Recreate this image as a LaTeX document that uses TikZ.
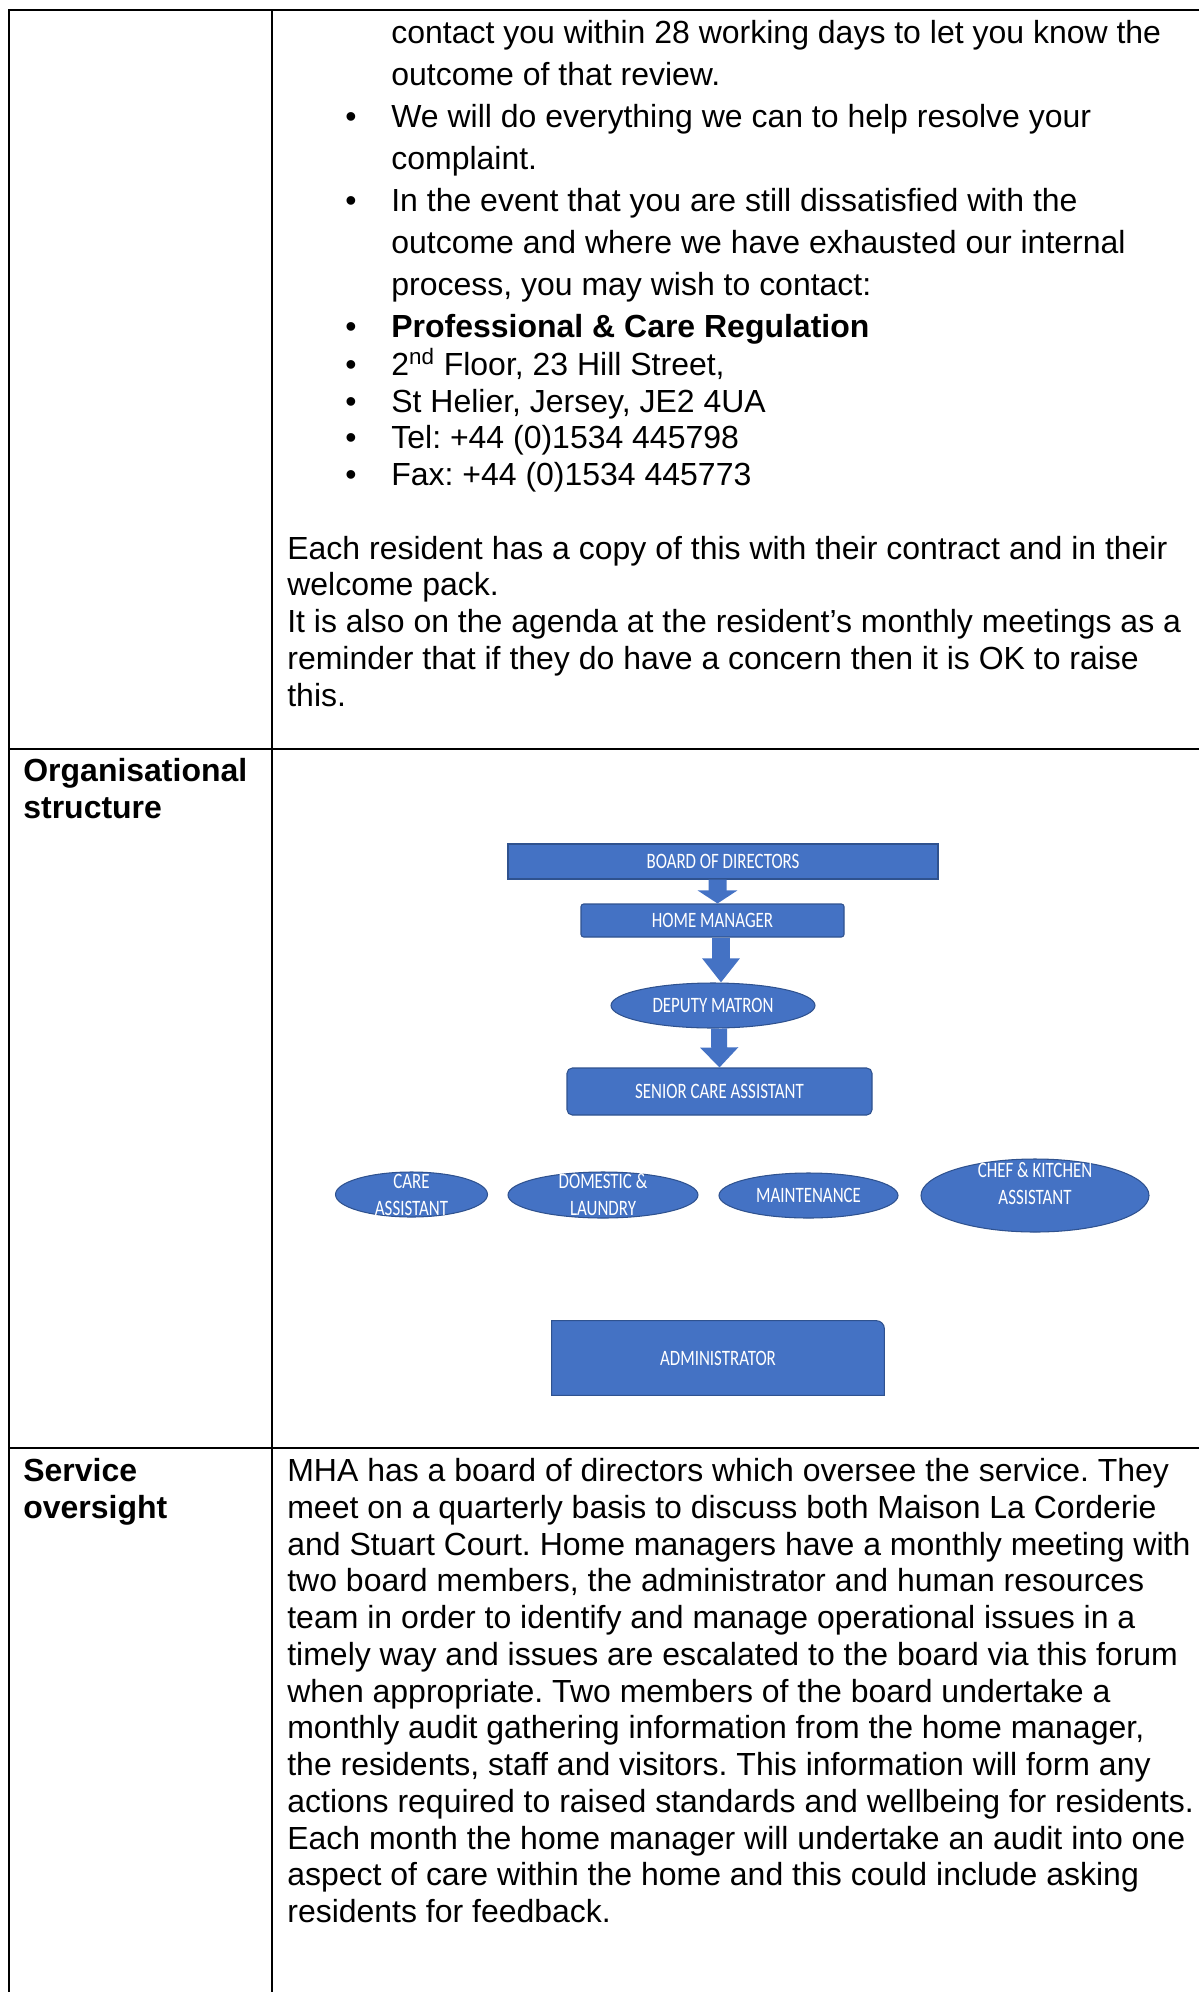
\documentclass[tikz,border=0pt]{standalone}
\usepackage{fontspec}
\setmainfont{Liberation Sans}
\newfontfamily\chartfont{Carlito}[FakeStretch=0.77]
\usetikzlibrary{shapes.geometric,arrows.meta,backgrounds}
\frenchspacing

\definecolor{chartblue}{HTML}{4472C4}
\definecolor{chartedge}{HTML}{2F528F}

\newcommand{\bul}{\makebox[0.92cm][l]{\textbullet}}
\newcommand{\skp}{\hspace*{0.92cm}}

\begin{document}
\begin{tikzpicture}
\tikzset{txt/.style={anchor=base west, align=left, inner sep=0pt, font=\fontsize{18.2}{20.9}\selectfont},
lbl/.style={txt, font=\fontsize{18.2}{20.9}\selectfont\bfseries},
chartlbl/.style={text=white, align=center, inner sep=0pt, font=\chartfont\fontsize{12.5}{15.4}\selectfont},
el/.style={chartlbl, draw=chartedge, line width=.6pt, fill=chartblue},
box/.style={el, rectangle},
oval/.style={el, ellipse}}

\useasboundingbox (0,0) rectangle (23.98,-39.84);

% Table rules
\draw[line width=.05cm] (23.98,-.2) -| (.18,-39.84);
\draw[line width=.05cm] (5.44,-.2) -- (5.44,-39.84);
\draw[line width=.05cm] (.18,-14.98) -- (23.98,-14.98);
\draw[line width=.05cm] (.18,-28.96) -- (23.98,-28.96);

% Complaints (continued), anchored on the last line
\node[txt, font=\fontsize{18.2}{23.9}\selectfont] (list) at (6.9,-6.74) {%
\skp contact you within 28 working days to let you know the\\
\skp outcome of that review.\\
\bul We will do everything we can to help resolve your\\
\skp complaint.\\
\bul In the event that you are still dissatisfied with the\\
\skp outcome and where we have exhausted our internal\\
\skp process, you may wish to contact:\\
\bul \textbf{Professional \& Care Regulation}};
\node[txt] (address) at (6.9,-9.71) {%
\bul 2\textsuperscript{nd} Floor, 23 Hill Street,\\
\bul St Helier, Jersey, JE2 4UA\\
\bul Tel: +44 (0)1534 445798\\
\bul Fax: +44 (0)1534 445773};
\node[txt] (copy) at (5.74,-14.12) {%
Each resident has a copy of this with their contract and in their\\
welcome pack.\\
It is also on the agenda at the resident’s monthly meetings as a\\
reminder that if they do have a concern then it is OK to raise\\
this.};

% Organisational structure
\node[lbl] (orglbl) at (.46,-16.37) {Organisational\\structure};

\node[box, minimum width=8.6cm, minimum height=.7cm] (board) at (14.46,-17.23) {BOARD OF DIRECTORS};
\node[box, rounded corners=1.5pt, minimum width=5.26cm, minimum height=.66cm] (hm) at (14.25,-18.41) {HOME MANAGER};
\node[oval, minimum width=4.08cm, minimum height=.9cm] (dm) at (14.26,-20.11) {DEPUTY MATRON};
\node[box, rounded corners=3pt, minimum width=6.1cm, minimum height=.94cm] (sca) at (14.39,-21.83) {SENIOR CARE ASSISTANT};

\node[oval, minimum width=3.04cm, minimum height=.9cm, label={[chartlbl]center:CARE\\ASSISTANT}] (care) at (8.23,-23.89) {};
\node[oval, minimum width=3.8cm, minimum height=.92cm, label={[chartlbl]center:DOMESTIC \&\\LAUNDRY}] (dom) at (12.06,-23.9) {};
\node[oval, minimum width=3.58cm, minimum height=.9cm] (maint) at (16.17,-23.91) {MAINTENANCE};
\node[oval, minimum width=4.56cm, minimum height=1.46cm, label={[chartlbl, yshift=.24cm]center:CHEF \& KITCHEN\\ASSISTANT}] (chef) at (20.7,-23.91) {};

\node[chartlbl, minimum width=6.64cm, minimum height=1.48cm] (admin) at (14.36,-27.16) {ADMINISTRATOR};
\begin{scope}[on background layer]
\filldraw[draw=chartedge, line width=.6pt, fill=chartblue] (admin.south west) -- (admin.north west)
  -- ([xshift=-.16cm]admin.north east) arc[start angle=90, end angle=0, radius=.16cm] -- (admin.south east) -- cycle;
\end{scope}

% Block arrows
\draw[line width=.36cm, chartblue, -{Triangle[width=.78cm, length=.26cm]}] ([xshift=-.11cm]board.south) -- ([xshift=.1cm]hm.north);
\draw[line width=.36cm, chartblue, -{Triangle[width=.72cm, length=.48cm]}] ([xshift=.17cm]hm.south) -- ([xshift=.16cm]dm.north);
\draw[line width=.32cm, chartblue, -{Triangle[width=.74cm, length=.4cm]}] ([xshift=.12cm]dm.south) -- (sca.north);

% Service oversight
\node[lbl] (svclbl) at (.46,-30.37) {Service\\oversight};
\node[txt] (oversight) at (5.74,-38.45) {%
MHA has a board of directors which oversee the service. They\\
meet on a quarterly basis to discuss both Maison La Corderie\\
and Stuart Court. Home managers have a monthly meeting with\\
two board members, the administrator and human resources\\
team in order to identify and manage operational issues in a\\
timely way and issues are escalated to the board via this forum\\
when appropriate. Two members of the board undertake a\\
monthly audit gathering information from the home manager,\\
the residents, staff and visitors. This information will form any\\
actions required to raised standards and wellbeing for residents.\\
Each month the home manager will undertake an audit into one\\
aspect of care within the home and this could include asking\\
residents for feedback.};

\end{tikzpicture}
\end{document}
